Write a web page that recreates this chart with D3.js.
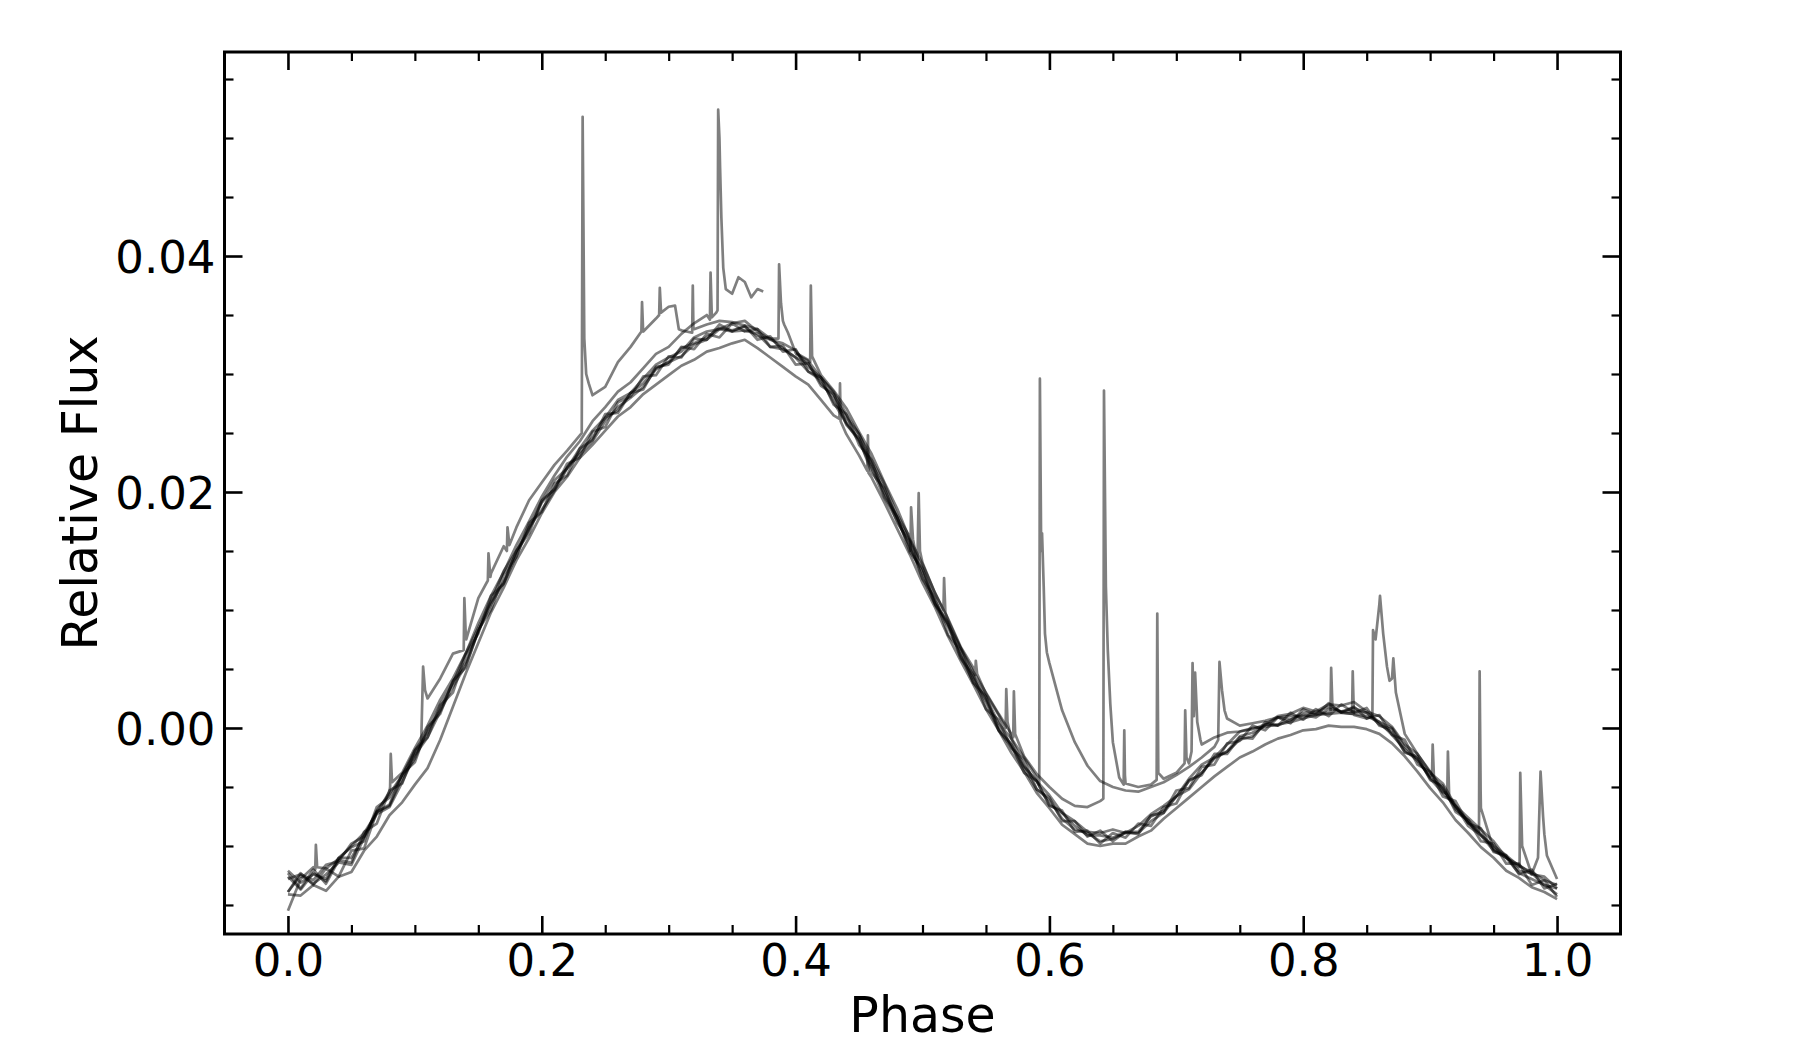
<!DOCTYPE html>
<html>
<head>
<meta charset="utf-8">
<script src="https://cdn.jsdelivr.net/npm/d3@7"></script>
<style>
  body { margin: 0; background: #fff; }
  text { font-family: "DejaVu Sans", sans-serif; }
</style>
</head>
<body>
<svg id="chart" width="1800" height="1050"></svg>
<script>
// phase grid shared by every light curve
var phase = [0.00,0.01,0.02,0.03,0.04,0.05,0.06,0.07,0.08,0.09,
  0.10,0.11,0.12,0.13,0.14,0.15,0.16,0.17,0.18,0.19,
  0.20,0.21,0.22,0.23,0.24,0.25,0.26,0.27,0.28,0.29,
  0.30,0.31,0.32,0.33,0.34,0.35,0.36,0.37,0.38,0.39,
  0.40,0.41,0.42,0.43,0.44,0.45,0.46,0.47,0.48,0.49,
  0.50,0.51,0.52,0.53,0.54,0.55,0.56,0.57,0.58,0.59,
  0.60,0.61,0.62,0.63,0.64,0.65,0.66,0.67,0.68,0.69,
  0.70,0.71,0.72,0.73,0.74,0.75,0.76,0.77,0.78,0.79,
  0.80,0.81,0.82,0.83,0.84,0.85,0.86,0.87,0.88,0.89,
  0.90,0.91,0.92,0.93,0.94,0.95,0.96,0.97,0.98,0.99,1.00];

// relative flux of each cycle
var lc1 = [-0.0126,-0.0137,-0.0123,-0.0130,-0.0110,-0.0110,-0.0092,-0.0071,-0.0066,-0.0042,
  -0.0026,-0.0002,0.0015,0.0039,0.0056,0.0082,0.0107,0.0124,0.0150,0.0168,
  0.0191,0.0203,0.0221,0.0234,0.0246,0.0263,0.0269,0.0284,0.0292,0.0305,
  0.0310,0.0322,0.0326,0.0331,0.0339,0.0337,0.0340,0.0332,0.0330,0.0322,
  0.0314,0.0309,0.0292,0.0280,0.0259,0.0245,0.0222,0.0199,0.0179,0.0152,
  0.0132,0.0105,0.0088,0.0062,0.0042,0.0024,0.0001,-0.0014,-0.0033,-0.0045,
  -0.0065,-0.0072,-0.0083,-0.0091,-0.0091,-0.0093,-0.0088,-0.0088,-0.0075,-0.0070,
  -0.0058,-0.0045,-0.0038,-0.0025,-0.0020,-0.0007,-0.0004,0.0002,0.0009,0.0007,
  0.0013,0.0013,0.0018,0.0014,0.0017,0.0013,0.0005,0.0000,-0.0016,-0.0026,
  -0.0042,-0.0051,-0.0069,-0.0078,-0.0090,-0.0102,-0.0109,-0.0121,-0.0123,-0.0133,
  -0.0136];

var lc2 = [-0.0139,-0.0125,-0.0132,-0.0124,-0.0114,-0.0116,-0.0093,-0.0073,-0.0067,-0.0046,
  -0.0023,-0.0008,0.0014,0.0035,0.0053,0.0082,0.0105,0.0123,0.0146,0.0170,
  0.0185,0.0201,0.0220,0.0232,0.0243,0.0260,0.0272,0.0280,0.0289,0.0304,
  0.0310,0.0315,0.0325,0.0329,0.0338,0.0336,0.0337,0.0334,0.0323,0.0321,
  0.0314,0.0302,0.0295,0.0276,0.0258,0.0243,0.0220,0.0195,0.0176,0.0154,
  0.0128,0.0104,0.0086,0.0061,0.0039,0.0022,-0.0002,-0.0016,-0.0034,-0.0052,
  -0.0061,-0.0077,-0.0086,-0.0089,-0.0096,-0.0094,-0.0089,-0.0089,-0.0079,-0.0072,
  -0.0058,-0.0052,-0.0038,-0.0026,-0.0020,-0.0010,-0.0007,0.0003,0.0002,0.0007,
  0.0011,0.0009,0.0016,0.0014,0.0014,0.0013,0.0003,-0.0004,-0.0020,-0.0026,
  -0.0043,-0.0055,-0.0066,-0.0083,-0.0091,-0.0104,-0.0110,-0.0123,-0.0128,-0.0133,
  -0.0141];

var lc3 = [-0.0121,-0.0131,-0.0124,-0.0128,-0.0110,-0.0101,-0.0096,-0.0067,-0.0059,-0.0040,
  -0.0019,-0.0004,0.0020,0.0038,0.0063,0.0085,0.0107,0.0133,0.0150,0.0170,
  0.0192,0.0210,0.0220,0.0237,0.0252,0.0263,0.0278,0.0284,0.0296,0.0308,
  0.0314,0.0319,0.0331,0.0336,0.0338,0.0343,0.0345,0.0336,0.0329,0.0326,
  0.0320,0.0306,0.0297,0.0283,0.0263,0.0249,0.0224,0.0203,0.0178,0.0159,
  0.0135,0.0108,0.0088,0.0068,0.0044,0.0026,0.0004,-0.0009,-0.0032,-0.0045,
  -0.0057,-0.0072,-0.0079,-0.0088,-0.0089,-0.0086,-0.0089,-0.0083,-0.0073,-0.0066,
  -0.0058,-0.0043,-0.0031,-0.0025,-0.0014,-0.0003,-0.0001,0.0003,0.0010,0.0012,
  0.0017,0.0014,0.0020,0.0019,0.0022,0.0014,0.0010,0.0001,-0.0014,-0.0022,
  -0.0038,-0.0047,-0.0066,-0.0076,-0.0086,-0.0096,-0.0110,-0.0116,-0.0124,-0.0126,
  -0.0136];

var lc4 = [-0.0128,-0.0124,-0.0129,-0.0116,-0.0113,-0.0098,-0.0092,-0.0070,-0.0056,-0.0040,
  -0.0022,0.0025,0.0042,0.0063,0.0082,0.0110,0.0131,0.0154,0.0170,0.0193,
  0.0208,0.0223,0.0235,0.0248,0.0282,0.0289,0.0310,0.0323,0.0336,0.0347,
  0.0357,0.0337,0.0338,0.0342,0.0345,0.0344,0.0341,0.0338,0.0330,0.0345,
  0.0318,0.0312,0.0299,0.0286,0.0271,0.0251,0.0232,0.0208,0.0186,0.0160,
  0.0139,0.0114,0.0093,0.0069,0.0051,0.0029,0.0011,-0.0009,-0.0025,-0.0042,
  0.0055,0.0015,-0.0012,-0.0032,-0.0045,-0.0050,-0.0053,-0.0054,-0.0050,-0.0046,
  -0.0040,-0.0033,-0.0025,-0.0016,0.0008,0.0002,0.0004,0.0006,0.0009,0.0010,
  0.0010,0.0012,0.0013,0.0013,0.0011,0.0008,0.0105,0.0042,-0.0005,-0.0022,
  -0.0037,-0.0052,-0.0066,-0.0080,-0.0068,-0.0103,-0.0110,-0.0118,-0.0124,-0.0090,
  -0.0128];

var lc5 = [-0.0155,-0.0128,-0.0118,-0.0119,-0.0111,-0.0100,-0.0089,-0.0072,-0.0054,-0.0038,
  -0.0017,0.0002,0.0024,0.0042,0.0063,0.0089,0.0112,0.0132,0.0155,0.0175,
  0.0196,0.0214,0.0230,0.0243,0.0260,0.0272,0.0285,0.0293,0.0305,0.0317,
  0.0323,0.0334,0.0343,0.0350,0.0500,0.0368,0.0378,0.0372,null,null,
  0.0317,0.0311,0.0297,0.0285,0.0266,0.0249,0.0227,0.0207,0.0181,0.0162,
  0.0140,0.0114,0.0092,0.0068,0.0048,0.0030,0.0012,-0.0005,-0.0024,-0.0039,
  -0.0050,-0.0060,-0.0066,-0.0067,-0.0062,-0.0012,-0.0047,-0.0050,-0.0048,-0.0043,
  -0.0038,-0.0030,-0.0014,-0.0008,-0.0004,-0.0003,0.0000,0.0001,0.0003,0.0005,
  0.0008,0.0011,0.0012,0.0013,0.0012,0.0010,0.0005,-0.0006,-0.0018,-0.0028,
  -0.0041,-0.0054,-0.0067,-0.0080,-0.0091,-0.0100,-0.0108,-0.0117,-0.0122,-0.0129,
  -0.0133];

var lc6 = [-0.0141,-0.0142,-0.0133,-0.0138,-0.0126,-0.0122,-0.0104,-0.0092,-0.0074,-0.0063,
  -0.0048,-0.0034,-0.0010,0.0018,0.0046,0.0072,0.0098,0.0119,0.0142,0.0161,
  0.0182,0.0200,0.0213,0.0229,0.0240,0.0252,0.0264,0.0272,0.0283,0.0291,
  0.0299,0.0307,0.0312,0.0319,0.0322,0.0326,0.0329,0.0322,0.0314,0.0306,
  0.0298,0.0291,0.0278,0.0265,0.0249,0.0231,0.0212,0.0191,0.0169,0.0147,
  0.0123,0.0102,0.0078,0.0057,0.0037,0.0016,-0.0002,-0.0021,-0.0037,-0.0055,
  -0.0068,-0.0082,-0.0090,-0.0098,-0.0100,-0.0098,-0.0098,-0.0092,-0.0087,-0.0077,
  -0.0068,-0.0059,-0.0050,-0.0041,-0.0033,-0.0025,-0.0020,-0.0014,-0.0009,-0.0006,
  -0.0002,-0.0001,0.0002,0.0001,0.0001,-0.0001,-0.0005,-0.0013,-0.0024,-0.0037,
  -0.0051,-0.0063,-0.0078,-0.0089,-0.0101,-0.0110,-0.0121,-0.0127,-0.0135,-0.0139,
  -0.0145];

var lc7 = [-0.0123,-0.0136,-0.0120,-0.0132,-0.0112,-0.0114,-0.0088,-0.0081,-0.0053,-0.0047,
  -0.0019,-0.0008,0.0019,0.0030,0.0062,0.0080,0.0112,0.0122,0.0150,0.0165,
  0.0193,0.0202,0.0224,0.0229,0.0251,0.0255,0.0276,0.0281,0.0298,0.0299,
  0.0315,0.0314,0.0330,0.0329,0.0342,0.0336,0.0341,0.0329,0.0332,0.0319,
  0.0321,0.0302,0.0297,0.0274,0.0266,0.0240,0.0227,0.0196,0.0179,0.0149,
  0.0135,0.0105,0.0090,0.0059,0.0045,0.0016,0.0007,-0.0017,-0.0027,-0.0052,
  -0.0059,-0.0079,-0.0079,-0.0092,-0.0087,-0.0096,-0.0088,-0.0090,-0.0074,-0.0072,
  -0.0053,-0.0051,-0.0033,-0.0031,-0.0013,-0.0011,0.0002,-0.0002,0.0009,0.0004,
  0.0016,0.0011,0.0021,0.0013,0.0018,0.0008,0.0011,-0.0006,-0.0010,-0.0031,
  -0.0037,-0.0058,-0.0062,-0.0081,-0.0085,-0.0105,-0.0108,-0.0124,-0.0120,-0.0136,
  -0.0132];

var lc8 = [-0.0139,-0.0123,-0.0133,-0.0119,-0.0126,-0.0104,-0.0102,-0.0071,-0.0065,-0.0039,
  -0.0029,0.0001,0.0012,0.0040,0.0051,0.0083,0.0100,0.0130,0.0145,0.0174,
  0.0183,0.0207,0.0214,0.0237,0.0244,0.0266,0.0267,0.0284,0.0287,0.0306,
  0.0308,0.0323,0.0321,0.0334,0.0331,0.0343,0.0336,0.0338,0.0323,0.0324,
  0.0308,0.0309,0.0290,0.0283,0.0257,0.0245,0.0216,0.0203,0.0174,0.0158,
  0.0126,0.0110,0.0079,0.0066,0.0038,0.0027,-0.0002,-0.0014,-0.0038,-0.0045,
  -0.0066,-0.0070,-0.0088,-0.0087,-0.0098,-0.0089,-0.0093,-0.0081,-0.0083,-0.0067,
  -0.0064,-0.0044,-0.0040,-0.0022,-0.0022,-0.0008,-0.0009,0.0005,0.0002,0.0013,
  0.0007,0.0016,0.0010,0.0020,0.0013,0.0017,0.0002,-0.0001,-0.0021,-0.0024,
  -0.0044,-0.0049,-0.0071,-0.0078,-0.0096,-0.0098,-0.0115,-0.0115,-0.0133,-0.0129,
  -0.0143];

// flare samples between grid points: [phase, flux]
var flares4 = [
  [0.105,-0.0012],[0.1065,0.0052],[0.108,0.0032],
  [0.1385,0.0066],[0.139,0.0110],[0.1405,0.0075],
  [0.1575,0.0125],[0.158,0.0148],[0.1595,0.0128],
  [0.1725,0.0150],[0.173,0.0170],[0.1745,0.0155],
  [0.2315,0.0250],[0.2322,0.0518],[0.2335,0.0330],[0.235,0.0300],[0.237,0.0292],
  [0.2785,0.0336],[0.279,0.0361],[0.2798,0.0338],
  [0.2925,0.0350],[0.293,0.0373],[0.294,0.0352],
  [0.305,0.0358],[0.308,0.0338],
  [0.3185,0.0335],[0.319,0.0375],[0.3195,0.0338],
  [0.3865,0.0330],[0.387,0.0393],[0.3885,0.0360],[0.391,0.0342],[0.394,0.0335],
  [0.4115,0.0310],[0.412,0.0375],[0.413,0.0315],
  [0.5415,0.0045],[0.542,0.0057],[0.543,0.0046],
  [0.5655,0.0000],[0.566,0.0033],[0.567,0.0005],
  [0.592,-0.0048],[0.5925,0.0296],[0.5935,0.0150],[0.5942,0.0165],[0.5955,0.0120],[0.5965,0.0080],[0.598,0.0064],
  [0.733,-0.0010],[0.734,0.0056],[0.736,0.0032],[0.738,0.0015],
  [0.8215,0.0014],[0.822,0.0051],[0.823,0.0018],
  [0.8385,0.0012],[0.839,0.0048],[0.8398,0.0015],
  [0.8545,0.0010],[0.855,0.0083],[0.857,0.0075],[0.8605,0.0112],[0.863,0.0080],[0.866,0.0052],[0.868,0.0040],
  [0.871,0.0059],[0.873,0.0030],[0.877,0.0010],
  [0.9385,-0.0088],[0.939,0.0048],[0.9398,-0.0055],
  [0.9705,-0.0114],[0.971,-0.0038],[0.9725,-0.0100],
  [0.985,-0.0110],[0.987,-0.0037],[0.989,-0.0075],[0.992,-0.0108]
];

var flares5 = [
  [0.0215,-0.0120],[0.022,-0.0099],[0.023,-0.0118],
  [0.0805,-0.0050],[0.081,-0.0022],[0.082,-0.0046],
  [0.3325,0.0346],[0.333,0.0386],[0.334,0.0348],
  [0.3375,0.0352],[0.3385,0.0354],[0.339,0.0524],[0.3405,0.0475],[0.3415,0.0433],[0.343,0.0390],[0.345,0.0372],
  [0.355,0.0382],[0.365,0.0365],[0.3745,0.0370],
  [0.4905,0.0150],[0.491,0.0187],[0.4925,0.0160],[0.496,0.0140],[0.497,0.0199],[0.498,0.0150],
  [0.5165,0.0100],[0.517,0.0127],[0.518,0.0098],
  [0.5715,-0.0008],[0.572,0.0031],[0.573,-0.0005],
  [0.6425,-0.0060],[0.643,0.0286],[0.6445,0.0120],[0.646,0.0066],[0.648,0.0020],
  [0.655,-0.0042],[0.6585,-0.0048],[0.659,-0.0002],[0.6595,-0.0040],
  [0.6845,-0.0044],[0.685,0.0097],[0.6858,-0.0038],
  [0.7065,-0.0030],[0.707,0.0015],[0.708,-0.0025],
  [0.712,-0.0020],[0.7128,0.0055],[0.7138,0.0010],[0.7148,0.0047],[0.7165,0.0005],[0.719,-0.0010],
  [0.9015,-0.0040],[0.902,-0.0014],[0.903,-0.0042],
  [0.9135,-0.0056],[0.914,-0.0020],[0.915,-0.0058]
];

var flares6 = [
  [0.4345,0.0262],[0.435,0.0292],[0.4355,0.0260],
  [0.4565,0.0218],[0.457,0.0248],[0.4575,0.0216]
];

var xTicks = [0.0, 0.2, 0.4, 0.6, 0.8, 1.0];
var xMinor = [0.05, 0.1, 0.15, 0.25, 0.3, 0.35, 0.45, 0.5, 0.55, 0.65, 0.7, 0.75, 0.85, 0.9, 0.95];
var yTicks = [0.00, 0.02, 0.04];
var yMinor = [-0.015, -0.01, -0.005, 0.005, 0.01, 0.015, 0.025, 0.03, 0.035, 0.045, 0.05, 0.055];

var margin = {top: 52, right: 179.5, bottom: 116, left: 224.5};

var svg = d3.select("#chart"),
    width = +svg.attr("width") - margin.left - margin.right,
    height = +svg.attr("height") - margin.top - margin.bottom,
    g = svg.append("g").attr("transform", "translate(" + margin.left + "," + margin.top + ")");

svg.insert("rect", ":first-child").attr("width", 1800).attr("height", 1050).attr("fill", "#fff");

var x = d3.scaleLinear().domain([-0.05, 1.05]).range([0, width]);
var y = d3.scaleLinear().domain([-0.01746, 0.05729]).range([height, 0]);

var curves = [
  {values: lc1, flares: []},
  {values: lc7, flares: []},
  {values: lc2, flares: []},
  {values: lc8, flares: []},
  {values: lc3, flares: []},
  {values: lc6, flares: flares6},
  {values: lc4, flares: flares4},
  {values: lc5, flares: flares5}
];

var line = d3.line()
    .defined(function(d) { return d[1] !== null; })
    .x(function(d) { return x(d[0]); })
    .y(function(d) { return y(d[1]); });

curves.forEach(function(c) {
  var pts = phase.map(function(p, i) { return [p, c.values[i]]; })
      .concat(c.flares)
      .sort(function(a, b) { return a[0] - b[0]; });
  g.append("path")
      .datum(pts)
      .attr("fill", "none")
      .attr("stroke", "#000")
      .attr("stroke-opacity", 0.5)
      .attr("stroke-width", 2.7)
      .attr("stroke-linejoin", "round")
      .attr("d", line);
});

// ticks on all four sides, pointing inward
function tidy(sel, w) {
  sel.select(".domain").remove();
  sel.attr("font-size", 45).attr("font-family", "DejaVu Sans, sans-serif");
  sel.selectAll("line").attr("stroke-width", w);
  sel.selectAll("text").attr("fill", "#000");
}

g.append("g").attr("transform", "translate(0," + height + ")")
    .call(d3.axisBottom(x).tickValues(xTicks).tickSize(-18).tickPadding(10).tickFormat(d3.format(".1f")))
    .call(tidy, 2.6);
g.append("g").attr("transform", "translate(0," + height + ")")
    .call(d3.axisBottom(x).tickValues(xMinor).tickSize(-9).tickFormat(""))
    .call(tidy, 2.2);
g.append("g")
    .call(d3.axisTop(x).tickValues(xTicks).tickSize(-18).tickFormat(""))
    .call(tidy, 2.6);
g.append("g")
    .call(d3.axisTop(x).tickValues(xMinor).tickSize(-9).tickFormat(""))
    .call(tidy, 2.2);

g.append("g")
    .call(d3.axisLeft(y).tickValues(yTicks).tickSize(-18).tickPadding(9).tickFormat(d3.format(".2f")))
    .call(tidy, 2.6)
    .selectAll("text").attr("dy", "0.36em");
g.append("g")
    .call(d3.axisLeft(y).tickValues(yMinor).tickSize(-9).tickFormat(""))
    .call(tidy, 2.2);
g.append("g").attr("transform", "translate(" + width + ",0)")
    .call(d3.axisRight(y).tickValues(yTicks).tickSize(-18).tickFormat(""))
    .call(tidy, 2.6);
g.append("g").attr("transform", "translate(" + width + ",0)")
    .call(d3.axisRight(y).tickValues(yMinor).tickSize(-9).tickFormat(""))
    .call(tidy, 2.2);

g.append("rect")
    .attr("width", width)
    .attr("height", height)
    .attr("fill", "none")
    .attr("stroke", "#000")
    .attr("stroke-width", 3);

svg.append("text")
    .attr("x", margin.left + width / 2)
    .attr("y", 1032)
    .attr("text-anchor", "middle")
    .attr("font-size", 49)
    .attr("fill", "#000")
    .text("Phase");

svg.append("text")
    .attr("transform", "translate(97," + (margin.top + height / 2) + ") rotate(-90)")
    .attr("text-anchor", "middle")
    .attr("font-size", 49)
    .attr("fill", "#000")
    .text("Relative Flux");
</script>
</body>
</html>
